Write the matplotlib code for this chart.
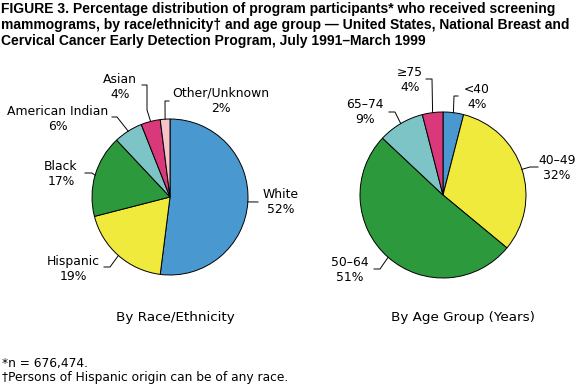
import matplotlib
matplotlib.use("Agg")
import matplotlib.pyplot as plt
import numpy as np

W, H = 575, 385

race_labels = ["White", "Hispanic", "Black", "American Indian", "Asian", "Other/Unknown"]
race_values = [52, 19, 17, 6, 4, 2]
age_labels = ["<40", "40\u201349", "50\u201364", "65\u201374", "\u226575"]
age_values = [4, 32, 51, 9, 4]

blue, yellow, green, teal, magenta, pink = "#4a98d0", "#f0ea3c", "#2c9a3c", "#7cc4c6", "#d9387a", "#f5c3c8"
race_colors = [blue, yellow, green, teal, magenta, pink]
age_colors = [blue, yellow, green, teal, magenta]

# label text centres and leader elbows, in pixels (y down)
race_layout = [
    ((281, 202), [(258, 202)]),
    ((73, 269), [(110, 267), (104, 267)]),
    ((61, 174), [(92, 173), (85, 173)]),
    ((58, 119), [(117, 117), (112, 117)]),
    ((120, 87), [(147, 110), (147, 85), (142, 85)]),
    ((221, 101), [(165, 101), (169, 101)]),
]
age_layout = [
    ((477, 97), [(454, 96), (458, 96)]),
    ((557, 168), [(530, 167), (538, 167)]),
    ((350, 270), [(380, 269), (374, 269)]),
    ((365, 112), [(395, 112), (389, 112)]),
    ((410, 80), [(432, 79), (426, 79)]),
]

fig = plt.figure(figsize=(W / 100, H / 100), dpi=100)
ax = fig.add_axes([0, 0, 1, 1])

label_font = dict(family="DejaVu Sans", fontsize=8.9, color="black")


def draw_pie(values, labels, colors, layout, cx, cy, r):
    ax.pie(values, colors=colors, startangle=90, counterclock=False,
           center=(cx, H - cy), radius=r,
           wedgeprops=dict(edgecolor="black", linewidth=0.7))
    total = sum(values)
    start = 90.0
    for v, lab, (txt, elbows) in zip(values, labels, layout):
        mid = np.radians(start - v / total * 360 / 2)
        start -= v / total * 360
        ex, ey = cx + r * np.cos(mid), cy - r * np.sin(mid)
        pts = [(ex, ey)] + elbows
        ax.plot([p[0] for p in pts], [H - p[1] for p in pts], color="black", lw=0.7)
        ax.text(txt[0], H - txt[1], f"{lab}\n{v}%", ha="center", va="center",
                linespacing=1.2, **label_font)


draw_pie(race_values, race_labels, race_colors, race_layout, 170, 197, 78)
draw_pie(age_values, age_labels, age_colors, age_layout, 443, 195, 83)

ax.text(175, H - 318, "By Race/Ethnicity", ha="center", va="center", fontsize=9.7, family="DejaVu Sans")
ax.text(463, H - 318, "By Age Group (Years)", ha="center", va="center", fontsize=9.7, family="DejaVu Sans")

title_lines = ["FIGURE 3. Percentage distribution of program participants* who received screening",
               "mammograms, by race/ethnicity\u2020 and age group \u2014 United States, National Breast and",
               "Cervical Cancer Early Detection Program, July 1991\u2013March 1999"]
title_font = dict(fontweight="bold", family=["Liberation Sans", "DejaVu Sans"])

# shrink title so the longest line fits the figure width
fs = 11
renderer = fig.canvas.get_renderer()
widths = []
for line in title_lines:
    probe = ax.text(0, 0, line, fontsize=fs, **title_font)
    widths.append(probe.get_window_extent(renderer).width)
    probe.remove()
fs = fs * 571 / max(widths)
for i, line in enumerate(title_lines):
    ax.text(1, H - 9 - 16 * i, line, ha="left", va="center", fontsize=fs, **title_font)

ax.text(2, H - 364, "*n = 676,474.", ha="left", va="center", fontsize=8.8, family="DejaVu Sans")
ax.text(2, H - 377, "\u2020Persons of Hispanic origin can be of any race.", ha="left", va="center",
        fontsize=8.8, family="DejaVu Sans")

ax.set_xlim(0, W)
ax.set_ylim(0, H)
ax.set_aspect("equal")
ax.axis("off")

fig.savefig("out.png", dpi=100, facecolor="white")
